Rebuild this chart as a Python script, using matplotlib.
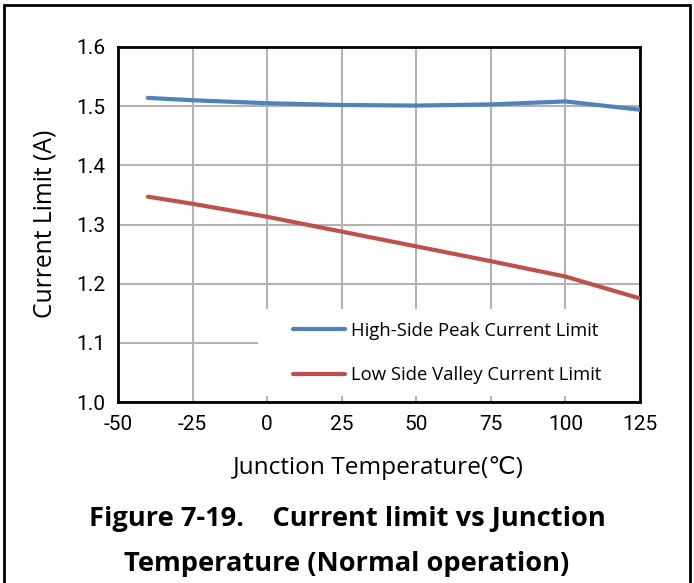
import matplotlib
matplotlib.use("Agg")
import matplotlib.pyplot as plt
from matplotlib.patches import Rectangle

temps = [-40, -25, 0, 25, 50, 75, 100, 125]
high_side = [1.514, 1.510, 1.505, 1.502, 1.501, 1.503, 1.508, 1.494]
low_side = [1.347, 1.335, 1.313, 1.288, 1.263, 1.238, 1.212, 1.175]
xticks = [-50, -25, 0, 25, 50, 75, 100, 125]
yticks = [1.0, 1.1, 1.2, 1.3, 1.4, 1.5, 1.6]
labels = ["High-Side Peak Current Limit", "Low Side Valley Current Limit"]

tickf = ["Roboto", "DejaVu Sans"]
bodyf = ["Open Sans", "DejaVu Sans"]
W, H = 694, 583

fig = plt.figure(figsize=(6.94, 5.83), dpi=100)
ax = fig.add_axes([118/W, 1-402/H, 522/W, 355/H])

ax.plot(temps, high_side, color="#4F81BD", lw=3, solid_capstyle="round", zorder=4, label=labels[0])
ax.plot(temps, low_side, color="#C0504D", lw=3, solid_capstyle="round", zorder=4, label=labels[1])

ax.set_xlim(-50, 125)
ax.set_ylim(1.0, 1.6)
ax.set_xticks(xticks)
ax.set_yticks(yticks)
ax.set_xticklabels([str(v) for v in xticks], family=tickf, fontsize=15)
ax.set_yticklabels([f"{v:.1f}" for v in yticks], family=tickf, fontsize=15)
ax.tick_params(length=0, pad=9)
ax.grid(True, color="#B3B3B3", lw=1.5)
ax.set_axisbelow(True)
for s in ax.spines.values():
    s.set_linewidth(2)
    s.set_color("black")

xl = ax.set_xlabel("Junction Temperature(℃)", family=bodyf + ["Noto Sans CJK SC"], fontsize=15)
yl = ax.set_ylabel("Current Limit (A)", family=bodyf, fontsize=15)
xl.set_va("center")
yl.set_va("center")
ax.xaxis.set_label_coords(0.5 + (378 - 379)/522, (402-468)/355)
ax.yaxis.set_label_coords((45-118)/522, (402-224)/355)

# white legend background
ax.add_patch(Rectangle(((258-118)/522, (402-396)/355), (640-258)/522, (396-309)/355,
                       transform=ax.transAxes, facecolor="white", edgecolor="none", zorder=2.5))

t1 = fig.text(0.5, 1-519/H, "Figure 7-19.    Current limit vs Junction", ha="center", va="center",
              fontsize=17, fontweight="bold", family=bodyf)
t2 = fig.text(0.5, 1-564/H, "Temperature (Normal operation)", ha="center", va="center",
              fontsize=17, fontweight="bold", family=bodyf)

def fit(t, target, vertical=False):
    fig.canvas.draw()
    bb = t.get_window_extent()
    w = bb.height if vertical else bb.width
    t.set_fontsize(t.get_fontsize() * target / w)

fit(t1, 517)
t2.set_fontsize(t1.get_fontsize())
fit(xl, 290)
fit(yl, 188, vertical=True)

# legend font size fitted to width
leg = ax.legend(loc="center left", bbox_to_anchor=((293-118)/522, (402-353)/355), frameon=False,
                prop={"family": bodyf, "size": 12}, borderpad=0, borderaxespad=0)
fig.canvas.draw()
lt = leg.get_texts()[0]
fs = 12 * 247 / lt.get_window_extent().width
leg.remove()
fpx = fs * 100 / 72
leg = ax.legend(loc="center left", bbox_to_anchor=((293-118)/522, (402-353)/355), frameon=False,
                prop={"family": bodyf, "size": fs}, handlelength=52/fpx, handletextpad=6/fpx,
                labelspacing=1.45, borderpad=0, borderaxespad=0)
for l in leg.get_lines():
    l.set_linewidth(3)

fig.add_artist(Rectangle((4/W, -0.05), (690-4)/W, 1.05 - 5/H, transform=fig.transFigure,
                         facecolor="none", edgecolor="black", lw=2))

fig.savefig("out.png", dpi=100)
